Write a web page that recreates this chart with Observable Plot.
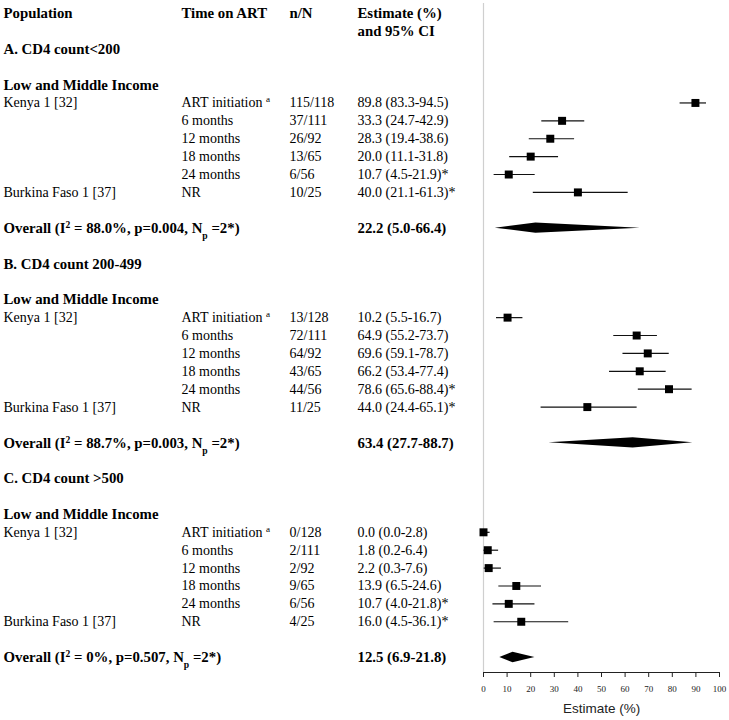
<!DOCTYPE html>
<html><head><meta charset="utf-8">
<script src="https://cdn.jsdelivr.net/npm/d3@7"></script>
<script src="https://cdn.jsdelivr.net/npm/@observablehq/plot@0.6"></script>
<style>body{margin:0;background:#fff}</style>
</head><body><div id="chart"></div>
<script>
// ---- data ----
const headers = ["Population", "Time on ART", "n/N", "Estimate (%)"];
const headerLine2 = "and 95% CI";
const sectionLabels = ["A. CD4 count<200", "B. CD4 count 200-499", "C. CD4 count >500"];
const regionLabel = "Low and Middle Income";
const studyLabels = ["Kenya 1 [32]", "", "", "", "", "Burkina Faso 1 [37]"];
const timeLabels = ["ART initiation ^{a}", "6 months", "12 months", "18 months", "24 months", "NR"];
const starred = [false, false, false, false, true, true];

const nN_A = ["115/118", "37/111", "26/92", "13/65", "6/56", "10/25"];
const est_A = [89.8, 33.3, 28.3, 20.0, 10.7, 40.0];
const lo_A = [83.3, 24.7, 19.4, 11.1, 4.5, 21.1];
const hi_A = [94.5, 42.9, 38.6, 31.8, 21.9, 61.3];

const nN_B = ["13/128", "72/111", "64/92", "43/65", "44/56", "11/25"];
const est_B = [10.2, 64.9, 69.6, 66.2, 78.6, 44.0];
const lo_B = [5.5, 55.2, 59.1, 53.4, 65.6, 24.4];
const hi_B = [16.7, 73.7, 78.7, 77.4, 88.4, 65.1];

const nN_C = ["0/128", "2/111", "2/92", "9/65", "6/56", "4/25"];
const est_C = [0.0, 1.8, 2.2, 13.9, 10.7, 16.0];
const lo_C = [0.0, 0.2, 0.3, 6.5, 4.0, 4.5];
const hi_C = [2.8, 6.4, 7.6, 24.6, 21.8, 36.1];

const overallStats = ["I^{2} = 88.0%, p=0.004, N_{p} =2*", "I^{2} = 88.7%, p=0.003, N_{p} =2*", "I^{2} = 0%, p=0.507, N_{p} =2*"];
const overallEst = [22.2, 63.4, 12.5];
const overallLo = [5.0, 27.7, 6.9];
const overallHi = [66.4, 88.7, 21.8];

const xTicks = [0, 10, 20, 30, 40, 50, 60, 70, 80, 90, 100];
const xLabel = "Estimate (%)";

// ---- build table ----
const sections = [
  {nN: nN_A, est: est_A, lo: lo_A, hi: hi_A},
  {nN: nN_B, est: est_B, lo: lo_B, hi: hi_B},
  {nN: nN_C, est: est_C, lo: lo_C, hi: hi_C}
];
const fmt = (e, l, h) => `${e.toFixed(1)} (${l.toFixed(1)}-${h.toFixed(1)})`;
const texts = [];   // {row, col, text, bold}
const studies = []; // {row, est, lo, hi}
const diamond = []; // {g, x, y1, y2}
headers.forEach((h, i) => texts.push({row: 0, col: i, text: h, bold: true}));
texts.push({row: 1, col: 3, text: headerLine2, bold: true});
sections.forEach((s, si) => {
  const start = 2 + si * 12;
  texts.push({row: start, col: 0, text: sectionLabels[si], bold: true});
  texts.push({row: start + 2, col: 0, text: regionLabel, bold: true});
  s.est.forEach((e, i) => {
    const row = start + 3 + i;
    if (studyLabels[i]) texts.push({row, col: 0, text: studyLabels[i], bold: false});
    texts.push({row, col: 1, text: timeLabels[i], bold: false});
    texts.push({row, col: 2, text: s.nN[i], bold: false});
    texts.push({row, col: 3, text: fmt(e, s.lo[i], s.hi[i]) + (starred[i] ? "*" : ""), bold: false});
    studies.push({row, est: e, lo: s.lo[i], hi: s.hi[i]});
  });
  const orow = start + 10;
  texts.push({row: orow, col: 0, text: `Overall (${overallStats[si]})`, bold: true});
  texts.push({row: orow, col: 3, text: fmt(overallEst[si], overallLo[si], overallHi[si]), bold: true});
  const hh = 0.29;
  diamond.push({g: si, x: overallLo[si], y1: orow, y2: orow});
  diamond.push({g: si, x: overallEst[si], y1: orow - hh, y2: orow + hh});
  diamond.push({g: si, x: overallHi[si], y1: orow, y2: orow});
});

const colDx = [-480, -302, -194, -126];
const yMin = -0.559, yMax = 36.836;
const serif = "'Liberation Serif', 'Times New Roman', serif";
const sans = "'Liberation Sans', Arial, sans-serif";

const textMarks = [];
for (let c = 0; c < 4; c++) {
  for (const b of [false, true]) {
    textMarks.push(Plot.text(texts.filter(d => d.col === c && d.bold === b), {
      y: "row", text: "text", frameAnchor: "left", dx: colDx[c], textAnchor: "start",
      fontFamily: serif, fontSize: b ? 14.8 : 14, fontWeight: b ? "bold" : "normal", fill: "#000"
    }));
  }
}

const chart = Plot.plot({
  width: 729, height: 720,
  marginLeft: 483, marginRight: 10, marginTop: 3, marginBottom: 48,
  x: {domain: [0, 100]},
  y: {domain: [yMin, yMax], range: [3, 672], axis: null},
  style: {background: "#fff", fontFamily: serif},
  marks: [
    Plot.ruleX([0], {stroke: "#cfcfcf", strokeWidth: 1.2}),
    Plot.ruleY(studies, {y: "row", x1: "lo", x2: "hi", stroke: "#111", strokeWidth: 1.2}),
    Plot.dot(studies, {x: "est", y: "row", symbol: "square", r: 4.5, fill: "#000", stroke: "none"}),
    Plot.area(diamond, {x1: "x", y1: "y1", y2: "y2", z: "g", fill: "#000", curve: "linear"}),
    Plot.ruleY([yMax], {stroke: "#222", strokeWidth: 1}),
    Plot.axisX({ticks: xTicks, tickSize: 5, tickPadding: 8, fontSize: 9, fontFamily: serif, label: null, stroke: "#222", color: "#222"}),
    Plot.text([xLabel], {x: 50, frameAnchor: "bottom", dy: 40, fontFamily: sans, fontSize: 13.5, fill: "#222"}),
    ...textMarks
  ]
});

// rich text: ^{..} superscript, _{..} subscript
d3.select(chart).selectAll("text").each(function() {
  const t = this.textContent;
  if (!/[\^_]\{/.test(t)) return;
  const parts = t.split(/([\^_]\{[^}]*\})/);
  this.textContent = "";
  for (const p of parts) {
    if (!p) continue;
    const m = p.match(/^([\^_])\{([^}]*)\}$/);
    const ts = d3.select(this).append("tspan");
    if (m) ts.text(m[2]).attr("baseline-shift", m[1] === "^" ? "super" : "sub").attr("font-size", "65%");
    else ts.text(p);
  }
});

document.getElementById("chart").appendChild(chart);
</script>
</body></html>
